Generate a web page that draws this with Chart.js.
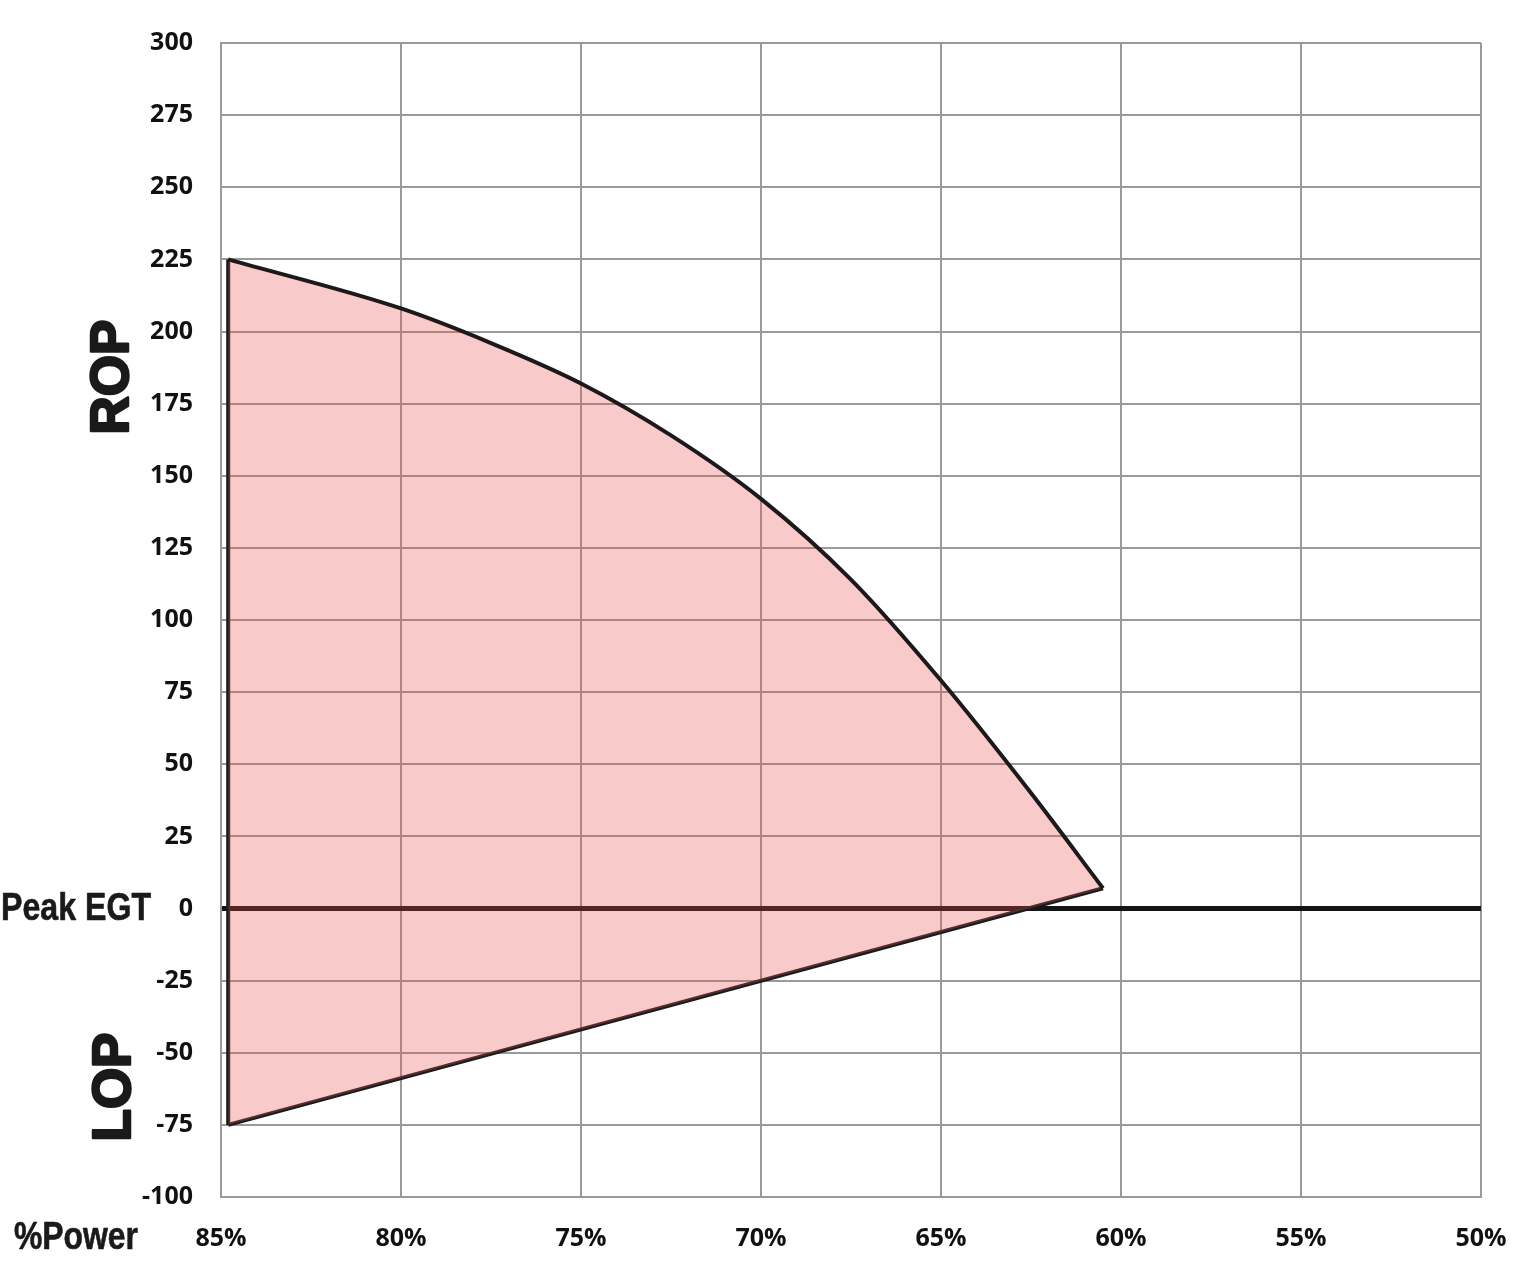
<!DOCTYPE html>
<html>
<head>
<meta charset="utf-8">
<script src="https://cdn.jsdelivr.net/npm/chart.js@4/dist/chart.umd.min.js"></script>
<style>
  html, body { margin: 0; padding: 0; background: #ffffff; }
  #wrap { width: 1536px; height: 1275px; }
</style>
</head>
<body>
<div id="wrap"><canvas id="c" width="1536" height="1275"></canvas></div>
<script>
// ---- data ----
const upperPower = [84.8, 80, 77.5, 75, 72.5, 70, 67.5, 65, 62.5, 60.5];
const upperTemp  = [225, 208, 196, 182, 164, 142, 114, 79, 40, 7];
const lowerPower = [84.8, 60.5];
const lowerTemp  = [-75, 7];
const edgePower  = [84.8, 84.8];
const edgeTemp   = [-75, 225];
const xTicks = [85, 80, 75, 70, 65, 60, 55, 50];
const yMin = -100, yMax = 300, yStep = 25;
const xMin = 50, xMax = 85, xStep = 5;
const sideLabels = { rop: "ROP", lop: "LOP", peak: "Peak EGT", power: "%Power" };

const toPts = (xs, ys) => xs.map((x, i) => ({ x: x, y: ys[i] }));

const textPlugin = {
  id: 'sideText',
  afterDraw(chart) {
    const ctx = chart.ctx;
    const y = chart.scales.y;
    ctx.save();
    ctx.fillStyle = '#1a1a1a';
    ctx.strokeStyle = '#1a1a1a';
    ctx.lineWidth = 2.5;
    ctx.lineJoin = 'round';
    // ROP / LOP rotated
    ctx.font = 'bold 53px "Liberation Sans", Arial, sans-serif';
    ctx.textAlign = 'center';
    ctx.textBaseline = 'middle';
    ctx.save();
    ctx.translate(113, 377);
    ctx.rotate(-Math.PI / 2);
    ctx.fillText(sideLabels.rop, 0, 0);
    ctx.strokeText(sideLabels.rop, 0, 0);
    ctx.restore();
    ctx.save();
    ctx.translate(115, 1087);
    ctx.rotate(-Math.PI / 2);
    ctx.fillText(sideLabels.lop, 0, 0);
    ctx.strokeText(sideLabels.lop, 0, 0);
    ctx.restore();
    // Peak EGT and %Power
    ctx.lineWidth = 0.6;
    ctx.font = 'bold 38px "Liberation Sans Narrow", "Liberation Sans", Arial, sans-serif';
    ctx.textAlign = 'left';
    ctx.fillText(sideLabels.peak, 1, y.getPixelForValue(0) + 1, 150);
    ctx.strokeText(sideLabels.peak, 1, y.getPixelForValue(0) + 1, 150);
    ctx.fillText(sideLabels.power, 14, 1239, 124);
    ctx.strokeText(sideLabels.power, 14, 1239, 124);
    ctx.restore();
  }
};

new Chart(document.getElementById('c'), {
  type: 'scatter',
  data: {
    datasets: [
      {
        label: 'upper',
        data: toPts(upperPower, upperTemp),
        showLine: true,
        borderColor: '#1a1a1a',
        borderWidth: 4,
        pointRadius: 0,
        cubicInterpolationMode: 'monotone',
        fill: { target: 1 },
        backgroundColor: 'rgba(232, 80, 80, 0.3)'
      },
      {
        label: 'lower',
        data: toPts(lowerPower, lowerTemp),
        showLine: true,
        borderColor: '#1a1a1a',
        borderWidth: 4,
        pointRadius: 0,
        fill: false
      },
      {
        label: 'edge',
        data: toPts(edgePower, edgeTemp),
        showLine: true,
        borderColor: '#1a1a1a',
        borderWidth: 4,
        pointRadius: 0,
        fill: false
      }
    ]
  },
  options: {
    responsive: false,
    animation: false,
    layout: { padding: { left: 0, right: 55, top: 42, bottom: 0 } },
    plugins: {
      legend: { display: false },
      tooltip: { enabled: false }
    },
    scales: {
      x: {
        type: 'linear',
        reverse: true,
        min: xMin,
        max: xMax,
        afterBuildTicks: (s) => { s.ticks = xTicks.map(v => ({ value: v })); },
        afterFit: (s) => { s.height = 78; },
        ticks: {
          stepSize: xStep,
          padding: 27,
          color: '#111',
          font: { family: '"Open Sans", sans-serif', size: 25, weight: 'bold' },
          callback: (v) => v + '%',
          maxRotation: 0,
          autoSkip: false
        },
        grid: { color: '#9a9a9a', lineWidth: 2, drawTicks: false },
        border: { color: '#9a9a9a', width: 2 }
      },
      y: {
        min: yMin,
        max: yMax,
        afterFit: (s) => { s.width = 221; },
        ticks: {
          stepSize: yStep,
          padding: 28,
          color: '#111',
          font: { family: '"Open Sans", sans-serif', size: 25, weight: 'bold' },
          autoSkip: false
        },
        grid: {
          color: (c) => (c.tick && c.tick.value === 0) ? '#141414' : '#9a9a9a',
          lineWidth: (c) => (c.tick && c.tick.value === 0) ? 5 : 2,
          drawTicks: false
        },
        border: { color: '#9a9a9a', width: 2 }
      }
    }
  },
  plugins: [textPlugin]
});
</script>
</body>
</html>
